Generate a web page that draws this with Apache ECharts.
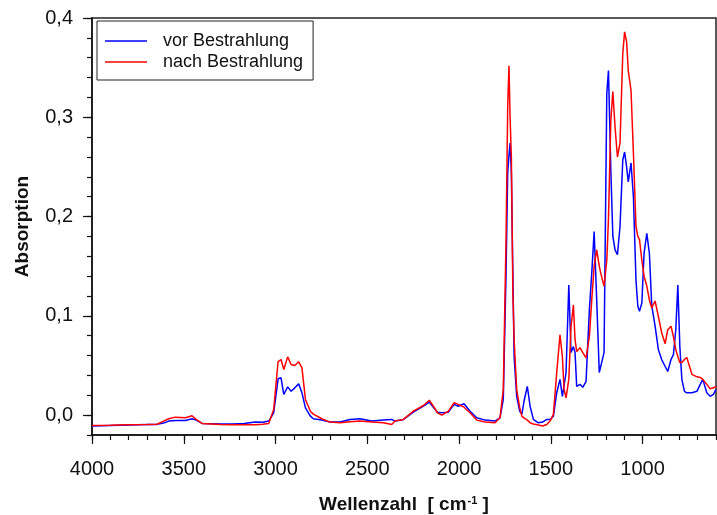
<!DOCTYPE html>
<html>
<head>
<meta charset="utf-8">
<script src="https://cdn.jsdelivr.net/npm/echarts@6/dist/echarts.min.js"></script>
<style>html,body{margin:0;padding:0;background:#fff}#c{width:717px;height:515px}</style>
</head>
<body>
<div id="c"></div>
<script>
// Wellenzahl (cm^-1)
const wavenumbers = [4000,3900,3800,3700,3646,3610,3582,3546,3491,3455,3433,3400,3300,3237,3170,3110,3070,3037,3010,2986,2970,2955,2934,2915,2895,2874,2856,2837,2810,2794,2748,2703,2649,2594,2540,2476,2412,2367,2349,2303,2249,2194,2162,2140,2118,2094,2058,2027,2004,1973,1940,1904,1858,1804,1777,1759,1744,1735,1728,1722,1715,1707,1700,1686,1670,1658,1645,1628,1613,1595,1568,1545,1522,1504,1486,1468,1450,1437,1428,1417,1402,1390,1377,1368,1359,1341,1326,1308,1290,1277,1264,1250,1236,1228,1210,1195,1186,1173,1162,1150,1137,1123,1108,1098,1087,1078,1063,1050,1036,1026,1017,1004,992,977,963,950,932,914,896,877,863,845,832,819,808,797,786,772,759,731,704,686,672,650,632,614,600];
// Absorption vor Bestrahlung
const vorBestrahlung = [-0.011,-0.0105,-0.010,-0.0095,-0.0093,-0.008,-0.006,-0.0053,-0.0053,-0.0036,-0.005,-0.0083,-0.009,-0.0088,-0.0085,-0.007,-0.0072,-0.006,0.0024,0.0366,0.0376,0.0208,0.0285,0.024,0.0275,0.0315,0.0225,0.0074,-0.001,-0.0036,-0.005,-0.007,-0.007,-0.0043,-0.0036,-0.006,-0.005,-0.0043,-0.006,-0.0043,0.003,0.009,0.013,0.008,0.003,0.0024,0.003,0.0108,0.009,0.0115,0.004,-0.0027,-0.005,-0.006,-0.0027,0.016,0.143,0.244,0.262,0.274,0.244,0.143,0.059,0.019,0.004,0.0007,0.015,0.029,0.009,-0.0043,-0.0077,-0.007,-0.0043,-0.0043,-0.001,0.0225,0.036,0.019,0.019,0.043,0.131,0.063,0.069,0.063,0.029,0.031,0.028,0.034,0.106,0.143,0.185,0.116,0.043,0.041,0.063,0.324,0.347,0.247,0.18,0.1665,0.1615,0.19,0.257,0.265,0.25,0.235,0.254,0.22,0.136,0.11,0.1045,0.113,0.163,0.183,0.163,0.11,0.09,0.066,0.056,0.049,0.044,0.056,0.061,0.086,0.131,0.069,0.036,0.024,0.0225,0.0225,0.024,0.031,0.036,0.0225,0.019,0.021,0.026];
// Absorption nach Bestrahlung
const nachBestrahlung = [-0.0105,-0.0102,-0.0098,-0.0095,-0.0092,-0.006,-0.0036,-0.002,-0.0026,-0.0006,-0.0043,-0.0083,-0.0095,-0.0098,-0.0098,-0.0097,-0.0092,-0.0083,0.0057,0.054,0.056,0.046,0.0587,0.051,0.050,0.0537,0.0476,0.0158,0.004,0.001,-0.0036,-0.007,-0.0076,-0.0067,-0.006,-0.007,-0.0077,-0.0094,-0.006,-0.0043,0.004,0.0097,0.015,0.009,0.0024,0,0.004,0.0125,0.0108,0.008,0.0024,-0.005,-0.007,-0.0077,-0.0027,0.026,0.177,0.31,0.352,0.30,0.26,0.126,0.076,0.026,0.008,-0.001,-0.003,-0.005,-0.0077,-0.009,-0.010,-0.011,-0.0094,-0.006,0.0007,0.0426,0.081,0.059,0.026,0.0175,0.036,0.089,0.111,0.076,0.064,0.068,0.063,0.0577,0.079,0.116,0.15,0.1665,0.15,0.143,0.13,0.156,0.197,0.297,0.326,0.29,0.26,0.274,0.364,0.386,0.376,0.347,0.327,0.264,0.19,0.18,0.177,0.156,0.14,0.13,0.116,0.108,0.115,0.0995,0.083,0.072,0.086,0.0895,0.079,0.066,0.059,0.053,0.053,0.056,0.058,0.041,0.0386,0.038,0.036,0.031,0.0265,0.0275,0.029];
const xTickLabels = [1000,1500,2000,2500,3000,3500,4000];
const yTickLabels = [0,0.1,0.2,0.3,0.4];
const seriesNames = ['vor Bestrahlung','nach Bestrahlung'];

const FONT = 'Liberation Sans, Arial, Helvetica, sans-serif';
const pairs = arr => wavenumbers.map((w,i)=>[w,arr[i]]);
const chart = echarts.init(document.getElementById('c'), null, {renderer:'canvas'});
chart.setOption({
  animation:false,
  backgroundColor:'#fff',
  textStyle:{fontFamily:FONT},
  grid:{left:92,right:1,top:18,bottom:80,outerBoundsMode:'none',containLabel:false,show:true,borderColor:'#222',borderWidth:1.5,backgroundColor:'transparent'},
  legend:{
    data:seriesNames, orient:'vertical', left:97, top:21, icon:'rect',
    padding:[11,10,9,8], itemGap:3, itemWidth:42, itemHeight:1.6,
    borderColor:'#222', borderWidth:1, backgroundColor:'#fff',
    textStyle:{fontFamily:FONT,fontSize:18,color:'#111',padding:[0,0,0,11]}
  },
  xAxis:[{
    type:'value', inverse:true, min:600, max:4000, position:'bottom',
    name:'{a|Wellenzahl  [ cm}{s|-1}{a| ]}', nameLocation:'middle', nameGap:60,
    nameTextStyle:{rich:{a:{fontFamily:FONT,fontSize:19,fontWeight:'bold',color:'#111'},s:{fontFamily:FONT,fontSize:11,fontWeight:'bold',color:'#111',padding:[0,0,9,1]}}},
    axisLine:{show:true,onZero:false,lineStyle:{color:'#111',width:1.5}},
    axisTick:{show:true,length:9,lineStyle:{color:'#111',width:1.2},customValues:xTickLabels},
    axisLabel:{fontFamily:FONT,fontSize:20,color:'#111',margin:24,customValues:xTickLabels,formatter:v=>String(v)},
    splitLine:{show:false}
  },{
    type:'value', inverse:true, min:600, max:4000, interval:100, position:'bottom',
    axisLine:{show:false,onZero:false}, axisLabel:{show:false},
    axisTick:{show:true,length:5,lineStyle:{color:'#111',width:1.2}},
    splitLine:{show:false}
  }],
  yAxis:[{
    type:'value', min:-0.02, max:0.4, position:'left',
    name:'Absorption', nameLocation:'middle', nameGap:60, nameRotate:90,
    nameTextStyle:{fontFamily:FONT,fontSize:19,fontWeight:'bold',color:'#111'},
    axisLine:{show:true,onZero:false,lineStyle:{color:'#111',width:1.5}},
    axisTick:{show:true,length:9,lineStyle:{color:'#111',width:1.2},customValues:yTickLabels},
    axisLabel:{fontFamily:FONT,fontSize:20,color:'#111',margin:19,customValues:yTickLabels,
      formatter:v=>v.toFixed(1).replace('.',',')},
    splitLine:{show:false}
  },{
    type:'value', min:-0.02, max:0.4, interval:0.02, position:'left',
    axisLine:{show:false,onZero:false}, axisLabel:{show:false},
    axisTick:{show:true,length:5,lineStyle:{color:'#111',width:1.2}},
    splitLine:{show:false}
  }],
  series:[
    {name:seriesNames[0],type:'line',xAxisIndex:0,yAxisIndex:0,data:pairs(vorBestrahlung),symbol:'none',
     lineStyle:{color:'#0000ff',width:1.5},itemStyle:{color:'#0000ff'}},
    {name:seriesNames[1],type:'line',xAxisIndex:0,yAxisIndex:0,data:pairs(nachBestrahlung),symbol:'none',
     lineStyle:{color:'#ff0000',width:1.5},itemStyle:{color:'#ff0000'}}
  ]
});
</script>
</body>
</html>
